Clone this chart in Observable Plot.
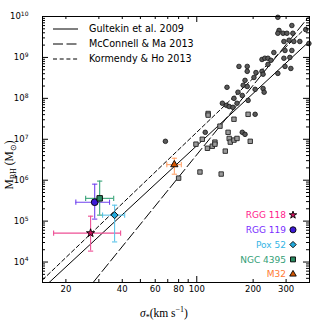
<!DOCTYPE html>
<html><head><meta charset="utf-8">
<script src="https://cdn.jsdelivr.net/npm/d3@7"></script>
<script src="https://cdn.jsdelivr.net/npm/@observablehq/plot@0.6"></script>
<style>body{margin:0;background:#fff;} svg{display:block;}</style>
</head><body><div id="chart"></div>
<script>
// Gray comparison sample (circles): sigma in km/s, log10 of BH mass in solar masses
const circleSigma = [271,275,271,289,303,322,326,382,397,292,311,330,355,258,296,322,292,314,223,231,240,249,240,168,186,186,207,223,226,202,271,296,318,181,177,186,145,205,226,229,166,175,158,188,137,144,149,156,164,205,111,175,181,68];
const circleLogM  = [9.98,9.66,9.59,9.59,9.59,9.78,9.59,9.68,9.34,9.39,9.42,9.39,9.39,9.12,9.17,9.17,8.98,9.00,8.95,8.98,8.98,8.93,8.83,8.78,8.78,8.66,8.63,8.66,8.59,8.51,8.61,8.78,8.73,8.44,8.32,8.29,8.27,8.22,8.24,8.15,8.15,8.07,8.00,7.95,7.88,7.83,7.80,7.78,7.88,7.61,7.17,7.17,7.12,6.95];
// Gray comparison sample (squares)
const squareSigma = [115,115,158,188,133,99,107,114,121,125,125,147,149,151,158,164,142,193,104,135,80];
const squareLogM  = [7.63,7.59,7.49,7.61,7.32,6.88,7.00,6.78,6.83,6.93,6.88,7.17,7.02,6.93,6.98,7.02,6.71,6.95,6.20,6.15,6.05];

// Highlighted low-mass objects
const dwarfNames   = ["RGG 118","RGG 119","Pox 52","NGC 4395","M32"];
const dwarfSigma   = [27.1, 28.5, 36.4, 30.3, 75.9];
const dwarfSigmaLo = [17.2, 22.6, 31.4, 25.5, 69.2];
const dwarfSigmaHi = [39.2, 34.2, 41.2, 36.0, 82.7];
const dwarfMass    = [5.1e4, 2.9e5, 1.4e5, 3.6e5, 2.4e6];
const dwarfMassLo  = [1.85e4, 1.12e5, 3.1e4, 1.4e5, 1.4e6];
const dwarfMassHi  = [1.32e5, 8.0e5, 2.45e5, 9.5e5, 3.44e6];
const dwarfSymbols = ["star","circle","diamond2","square","triangle"];
const dwarfR       = [2.6, 3.4, 3.2, 3.1, 2.7];
const dwarfFill    = ["#d0115e","#3d1ad6","#22aadd","#2a8c62","#d45500"];
const dwarfErr     = ["#ee4f95","#7043ee","#5cc4ea","#3aa57a","#ffa066"];
const dwarfText    = ["#ff1a8c","#7a2dff","#33b5e5","#33a077","#ff7a33"];

// M-sigma relations: log10 M = alpha + beta * log10(sigma / 200 km/s)
const relNames = ["Gultekin et al. 2009","McConnell & Ma 2013","Kormendy & Ho 2013"];
const relAlpha = [8.12, 8.32, 8.49];
const relBeta  = [4.24, 5.64, 4.38];
const relDash  = [null, "10,3.5", "4,2.7"];
const relSigmaRange = [15, 400];

// Ticks
const xTickLabels = [20,40,60,80,100,200,300];
const xMajor = [100];
const xMinor = [20,30,40,50,60,70,80,90,200,300];
const yMajor = [1e4,1e5,1e6,1e7,1e8,1e9,1e10];
const yMinor = [];
for (let e = 3; e < 10; e++) for (let m = 2; m <= 9; m++) { const v = m * 10 ** e; if (v > 10 ** 3.5) yMinor.push(v); }

const circles = circleSigma.map((s, i) => ({sigma: s, M: 10 ** circleLogM[i]}));
const squares = squareSigma.map((s, i) => ({sigma: s, M: 10 ** squareLogM[i]}));
const relLines = relNames.map((n, k) => relSigmaRange.map(s => ({sigma: s, M: 10 ** (relAlpha[k] + relBeta[k] * Math.log10(s / 200))})));
const idx = dwarfNames.map((_, i) => i);

const capH = {draw(ctx, size) { const w = Math.sqrt(size / Math.PI); ctx.moveTo(-w, 0); ctx.lineTo(w, 0); }};
const capV = {draw(ctx, size) { const w = Math.sqrt(size / Math.PI); ctx.moveTo(0, -w); ctx.lineTo(0, w); }};

const FH = 266, FW = 267;
const marks = [];
relLines.forEach((rows, k) => marks.push(Plot.line(rows, {x: "sigma", y: "M", stroke: "#000", strokeWidth: 1, strokeDasharray: relDash[k], clip: true})));
marks.push(Plot.dot(squares, {x: "sigma", y: "M", symbol: "square", r: 2.5, fill: "#9a9a9a", stroke: "#222", strokeWidth: 0.9}));
marks.push(Plot.dot(circles, {x: "sigma", y: "M", symbol: "circle", r: 2.3, fill: "#5a5a5a", stroke: "#111", strokeWidth: 0.8}));
idx.forEach(i => {
  marks.push(Plot.ruleY([i], {y: () => dwarfMass[i], x1: () => dwarfSigmaLo[i], x2: () => dwarfSigmaHi[i], stroke: dwarfErr[i], strokeWidth: 1.1}));
  marks.push(Plot.ruleX([i], {x: () => dwarfSigma[i], y1: () => dwarfMassLo[i], y2: () => dwarfMassHi[i], stroke: dwarfErr[i], strokeWidth: 1.1}));
  marks.push(Plot.dot([dwarfMassLo[i], dwarfMassHi[i]], {x: () => dwarfSigma[i], y: d => d, symbol: capH, r: 2.6, fill: "none", stroke: dwarfErr[i], strokeWidth: 1.1}));
  marks.push(Plot.dot([dwarfSigmaLo[i], dwarfSigmaHi[i]], {x: d => d, y: () => dwarfMass[i], symbol: capV, r: 2.6, fill: "none", stroke: dwarfErr[i], strokeWidth: 1.1}));
});
idx.forEach(i => marks.push(Plot.dot([i], {x: () => dwarfSigma[i], y: () => dwarfMass[i], symbol: dwarfSymbols[i], r: dwarfR[i], fill: dwarfFill[i], stroke: "#000", strokeWidth: 0.9})));
// inward tick marks on all four sides
marks.push(Plot.tickX(xMinor, {x: d => d, insetTop: FH - 3, stroke: "#000"}));
marks.push(Plot.tickX(xMinor, {x: d => d, insetBottom: FH - 3, stroke: "#000"}));
marks.push(Plot.tickX(xMajor, {x: d => d, insetTop: FH - 6, stroke: "#000"}));
marks.push(Plot.tickX(xMajor, {x: d => d, insetBottom: FH - 6, stroke: "#000"}));
marks.push(Plot.tickY(yMinor, {y: d => d, insetRight: FW - 3, stroke: "#000"}));
marks.push(Plot.tickY(yMinor, {y: d => d, insetLeft: FW - 3, stroke: "#000"}));
marks.push(Plot.tickY(yMajor, {y: d => d, insetRight: FW - 6, stroke: "#000"}));
marks.push(Plot.tickY(yMajor, {y: d => d, insetLeft: FW - 6, stroke: "#000"}));
// x tick labels (all shown, as in the reference)
marks.push(Plot.text(xTickLabels, {x: d => d, frameAnchor: "bottom", dy: 9, text: d => String(d), fontSize: 8.5, fill: "#000", textAnchor: "middle"}));
marks.push(Plot.axisY(yMajor, {tickSize: 0, tickPadding: 14, tickFormat: d => "10^" + Math.round(Math.log10(d)), label: null, fontSize: 8.5, textAnchor: "end"}));
marks.push(Plot.frame({stroke: "#000", strokeWidth: 1}));

const plot = Plot.plot({
  width: 325, height: 325,
  marginLeft: 42, marginRight: 16, marginTop: 16, marginBottom: 43,
  style: {fontFamily: "DejaVu Sans", fontSize: "8.5px", background: "#fff", color: "#000"},
  x: {type: "log", domain: [15, 400], axis: null},
  y: {type: "log", domain: [10 ** 3.5, 1e10]},
  marks
});
document.getElementById("chart").appendChild(plot);

const svg = d3.select(plot);
// superscript exponents on y tick labels
svg.selectAll('g[aria-label="y-axis tick label"] text').each(function() {
  const t = d3.select(this);
  const e = t.text().split("^")[1];
  t.text(null);
  t.append("tspan").text("10");
  t.append("tspan").attr("dy", "-0.55em").attr("font-size", "6px").text(e);
});

// axis titles
const xl = svg.append("text").attr("x", 164).attr("y", 317).attr("text-anchor", "middle")
  .attr("font-family", "Liberation Serif").attr("font-size", 11.5).attr("fill", "#000");
xl.append("tspan").attr("font-style", "italic").text("σ");
xl.append("tspan").attr("dy", 3).attr("font-size", 8).text("*");
xl.append("tspan").attr("dy", -3).text("(km s");
xl.append("tspan").attr("dy", -5).attr("font-size", 8).text("−1");
xl.append("tspan").attr("dy", 5).text(")");

const yl = svg.append("text").attr("transform", "translate(13,165) rotate(-90)").attr("text-anchor", "middle")
  .attr("font-family", "Liberation Serif").attr("font-size", 11.5).attr("fill", "#000");
yl.append("tspan").text("M");
yl.append("tspan").attr("dy", 3).attr("font-size", 8).text("BH");
yl.append("tspan").attr("dy", -3).text(" (M");
yl.append("tspan").attr("dy", 3).attr("font-size", 8).text("⊙");
yl.append("tspan").attr("dy", -3).text(")");

// relation legend (upper left)
const lg = svg.append("g").attr("font-family", "DejaVu Sans").attr("font-size", 9.6).attr("text-anchor", "start");
relNames.forEach((n, k) => {
  const y = 29 + k * 15;
  lg.append("line").attr("x1", 53).attr("x2", 78).attr("y1", y).attr("y2", y).attr("stroke", "#000").attr("stroke-width", 1)
    .attr("stroke-dasharray", relDash[k]);
  lg.append("text").attr("x", 89).attr("y", y).attr("dy", "0.35em").attr("fill", "#000").text(n);
});

// object legend (lower right)
const symMap = {star: d3.symbolStar, circle: d3.symbolCircle, diamond2: d3.symbolDiamond2, square: d3.symbolSquare, triangle: d3.symbolTriangle};
const lg2 = svg.append("g").attr("font-family", "DejaVu Sans").attr("font-size", 9);
dwarfNames.forEach((n, i) => {
  const y = 215 + i * 14.8;
  lg2.append("text").attr("x", 286).attr("y", y).attr("dy", "0.35em").attr("text-anchor", "end").attr("fill", dwarfText[i]).text(n);
  lg2.append("path").attr("transform", `translate(293,${y})`)
    .attr("d", d3.symbol(symMap[dwarfSymbols[i]], Math.PI * (dwarfR[i] * 0.9) ** 2)())
    .attr("fill", dwarfFill[i]).attr("stroke", "#000").attr("stroke-width", 0.9);
});
</script>
</body></html>
